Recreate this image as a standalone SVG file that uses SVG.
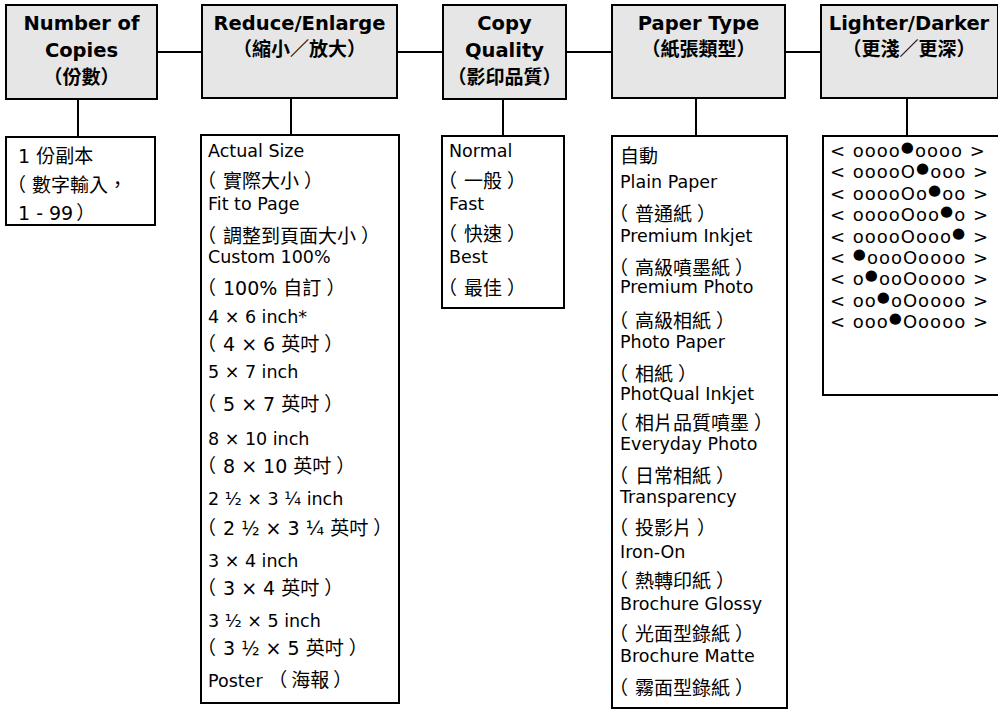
<svg xmlns="http://www.w3.org/2000/svg" width="998" height="710" viewBox="0 0 998 710">
<style>
.hdr{fill:#e6e6e6;stroke:#000;stroke-width:2}
.box{fill:#fff;stroke:#000;stroke-width:2}
.conn line{stroke:#000;stroke-width:2}
.h{font-family:"DejaVu Sans","Noto Sans CJK TC",sans-serif;font-weight:bold;font-size:19.5px;text-anchor:middle;fill:#000}
.hc{font-family:"Noto Sans CJK TC",sans-serif;font-weight:bold;font-size:19px;text-anchor:middle;fill:#000}
.t{font-family:"DejaVu Sans","Noto Sans CJK TC",sans-serif;font-size:17.5px;fill:#000}
.c{font-family:"DejaVu Sans","Noto Sans CJK TC",sans-serif;font-size:19px;fill:#000}
.ld{font-family:"DejaVu Sans",sans-serif;font-size:18px;letter-spacing:1px;fill:#000}
.d{font-size:15px}
.b{font-size:19px}
</style>
<rect width="998" height="710" fill="#fff"/>
<g id="connectors" class="conn">
<line x1="157" y1="52" x2="202" y2="52"/>
<line x1="397" y1="52" x2="443" y2="52"/>
<line x1="566" y1="52" x2="612" y2="52"/>
<line x1="785" y1="52" x2="821" y2="52"/>
<line x1="78" y1="99" x2="78" y2="137"/>
<line x1="291" y1="98" x2="291" y2="135"/>
<line x1="503" y1="99" x2="503" y2="136"/>
<line x1="696" y1="98" x2="696" y2="136"/>
<line x1="907" y1="98" x2="907" y2="136"/>
</g>
<g id="h-copies">
<rect class="hdr" x="6" y="5" width="151" height="94"/>
<text class="h" x="81.5" y="30">Number of</text>
<text class="h" x="81.5" y="57">Copies</text>
<text class="hc" x="81.5" y="84">（份數）</text>
</g>
<g id="h-reduce">
<rect class="hdr" x="202" y="5" width="195" height="93"/>
<text class="h" x="299.5" y="30">Reduce/Enlarge</text>
<text class="hc" x="299.5" y="56">（縮小／放大）</text>
</g>
<g id="h-quality">
<rect class="hdr" x="443" y="5" width="123" height="94"/>
<text class="h" x="504.5" y="30">Copy</text>
<text class="h" x="504.5" y="57">Quality</text>
<text class="hc" x="504.5" y="84">（影印品質）</text>
</g>
<g id="h-paper">
<rect class="hdr" x="612" y="5" width="173" height="93"/>
<text class="h" x="698.5" y="30">Paper Type</text>
<text class="hc" x="698.5" y="56">（紙張類型）</text>
</g>
<g id="h-lighter">
<rect class="hdr" x="821" y="5" width="177" height="93"/>
<text class="h" x="909" y="30">Lighter/Darker</text>
<text class="hc" x="909" y="56">（更淺／更深）</text>
</g>
<g id="copies">
<rect class="box" x="6" y="137" width="149" height="88"/>
<text class="c" x="18" y="163">1 份副本</text>
<text class="c" x="7" y="192">（<tspan dx="6">數字輸入，</tspan></text>
<text class="c" x="18" y="220">1 - 99<tspan dx="3">）</tspan></text>
</g>
<g id="reduce">
<rect class="box" x="201" y="135" width="198" height="568"/>
<text class="t" x="208" y="157">Actual Size</text>
<text class="c" x="197" y="188">（<tspan dx="7">實際大小</tspan><tspan dx="5">）</tspan></text>
<text class="t" x="208" y="210">Fit to Page</text>
<text class="c" x="197" y="243">（<tspan dx="7">調整到頁面大小</tspan><tspan dx="5">）</tspan></text>
<text class="t" x="208" y="263">Custom 100%</text>
<text class="c" x="197" y="295">（<tspan dx="7">100% 自訂</tspan><tspan dx="5">）</tspan></text>
<text class="t" x="208" y="323">4 × 6 inch*</text>
<text class="c" x="197" y="351">（<tspan dx="7">4 × 6 英吋</tspan><tspan dx="5">）</tspan></text>
<text class="t" x="208" y="378">5 × 7 inch</text>
<text class="c" x="197" y="411">（<tspan dx="7">5 × 7 英吋</tspan><tspan dx="5">）</tspan></text>
<text class="t" x="208" y="445">8 × 10 inch</text>
<text class="c" x="197" y="473">（<tspan dx="7">8 × 10 英吋</tspan><tspan dx="5">）</tspan></text>
<text class="t" x="208" y="505">2 ½ × 3 ¼ inch</text>
<text class="c" x="197" y="535">（<tspan dx="7">2 ½ × 3 ¼ 英吋</tspan><tspan dx="5">）</tspan></text>
<text class="t" x="208" y="567">3 × 4 inch</text>
<text class="c" x="197" y="595">（<tspan dx="7">3 × 4 英吋</tspan><tspan dx="5">）</tspan></text>
<text class="t" x="208" y="627">3 ½ × 5 inch</text>
<text class="c" x="197" y="655">（<tspan dx="7">3 ½ × 5 英吋</tspan><tspan dx="5">）</tspan></text>
<text class="t" x="208" y="687">Poster <tspan class="b">（<tspan dx="4">海報</tspan><tspan dx="4">）</tspan></tspan></text>
</g>
<g id="quality">
<rect class="box" x="442" y="136" width="122" height="172"/>
<text class="t" x="449" y="157">Normal</text>
<text class="c" x="438" y="188">（<tspan dx="7">一般</tspan><tspan dx="5">）</tspan></text>
<text class="t" x="449" y="210">Fast</text>
<text class="c" x="438" y="241">（<tspan dx="7">快速</tspan><tspan dx="5">）</tspan></text>
<text class="t" x="449" y="263">Best</text>
<text class="c" x="438" y="295">（<tspan dx="7">最佳</tspan><tspan dx="5">）</tspan></text>
</g>
<g id="paper">
<rect class="box" x="612" y="136" width="175" height="572"/>
<text class="c" x="620" y="163">自動</text>
<text class="t" x="620" y="188">Plain Paper</text>
<text class="c" x="609" y="221">（<tspan dx="7">普通紙</tspan><tspan dx="5">）</tspan></text>
<text class="t" x="620" y="242">Premium Inkjet</text>
<text class="c" x="609" y="275">（<tspan dx="7">高級噴墨紙</tspan><tspan dx="5">）</tspan></text>
<text class="t" x="620" y="293">Premium Photo</text>
<text class="c" x="609" y="328">（<tspan dx="7">高級相紙</tspan><tspan dx="5">）</tspan></text>
<text class="t" x="620" y="348">Photo Paper</text>
<text class="c" x="609" y="381">（<tspan dx="7">相紙</tspan><tspan dx="5">）</tspan></text>
<text class="t" x="620" y="400">PhotQual Inkjet</text>
<text class="c" x="609" y="430">（<tspan dx="7">相片品質噴墨</tspan><tspan dx="5">）</tspan></text>
<text class="t" x="620" y="450">Everyday Photo</text>
<text class="c" x="609" y="483">（<tspan dx="7">日常相紙</tspan><tspan dx="5">）</tspan></text>
<text class="t" x="620" y="503">Transparency</text>
<text class="c" x="609" y="535">（<tspan dx="7">投影片</tspan><tspan dx="5">）</tspan></text>
<text class="t" x="620" y="558">Iron-On</text>
<text class="c" x="609" y="588">（<tspan dx="7">熱轉印紙</tspan><tspan dx="5">）</tspan></text>
<text class="t" x="620" y="610">Brochure Glossy</text>
<text class="c" x="609" y="641">（<tspan dx="7">光面型錄紙</tspan><tspan dx="5">）</tspan></text>
<text class="t" x="620" y="662">Brochure Matte</text>
<text class="c" x="609" y="695">（<tspan dx="7">霧面型錄紙</tspan><tspan dx="5">）</tspan></text>
</g>
<g id="lighter">
<rect class="box" x="823" y="136" width="180" height="259"/>
<text class="ld" x="830" y="157">&lt; oooo<tspan class="d" dy="-5">●</tspan><tspan dy="5">oooo &gt;</tspan></text>
<text class="ld" x="830" y="178">&lt; ooooO<tspan class="d" dy="-5">●</tspan><tspan dy="5">ooo &gt;</tspan></text>
<text class="ld" x="830" y="199.5">&lt; ooooOo<tspan class="d" dy="-5">●</tspan><tspan dy="5">oo &gt;</tspan></text>
<text class="ld" x="830" y="221">&lt; ooooOoo<tspan class="d" dy="-5">●</tspan><tspan dy="5">o &gt;</tspan></text>
<text class="ld" x="830" y="242.5">&lt; ooooOooo<tspan class="d" dy="-5">●</tspan><tspan dy="5"> &gt;</tspan></text>
<text class="ld" x="830" y="264">&lt; <tspan class="d" dy="-5">●</tspan><tspan dy="5">oooOoooo &gt;</tspan></text>
<text class="ld" x="830" y="285">&lt; o<tspan class="d" dy="-5">●</tspan><tspan dy="5">ooOoooo &gt;</tspan></text>
<text class="ld" x="830" y="306.5">&lt; oo<tspan class="d" dy="-5">●</tspan><tspan dy="5">oOoooo &gt;</tspan></text>
<text class="ld" x="830" y="328">&lt; ooo<tspan class="d" dy="-5">●</tspan><tspan dy="5">Ooooo &gt;</tspan></text>
</g>
</svg>
